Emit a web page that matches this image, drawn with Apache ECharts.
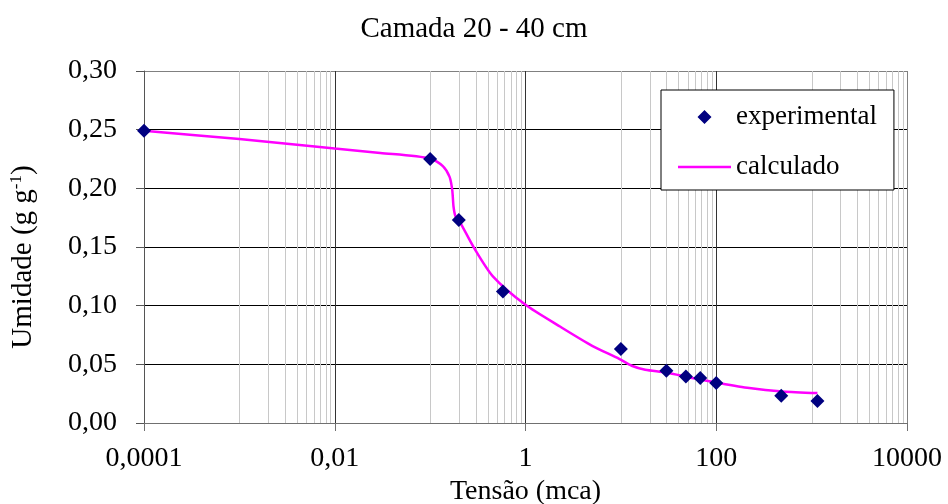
<!DOCTYPE html>
<html><head><meta charset="utf-8">
<script src="https://cdn.jsdelivr.net/npm/echarts@6/dist/echarts.min.js"></script>
<style>html,body{margin:0;padding:0;background:#fff}#c{width:948px;height:504px}</style>
</head><body><div id="c"></div>
<script>
const titleText = 'Camada 20 - 40 cm';
const xName = 'Tensão (mca)';
const seriesNames = ['experimental', 'calculado'];
const expX = [0.0001, 0.1, 0.2, 0.58, 10, 30, 48, 68, 100, 480, 1150];
const expY = [0.249, 0.225, 0.173, 0.112, 0.063, 0.0445, 0.0397, 0.0383, 0.034, 0.0232, 0.0187];
const calcX = [0.0001, 0.001, 0.01, 0.03, 0.1, 0.136, 0.16, 0.1706, 0.176, 0.185, 0.2, 0.29, 0.455, 1.0, 2.3, 5.0, 9.6, 13, 18, 30, 56, 100, 222, 494, 1150];
const calcY = [0.249, 0.242, 0.234, 0.2302, 0.2255, 0.219, 0.2098, 0.1985, 0.1843, 0.1758, 0.173, 0.149, 0.125, 0.1007, 0.0822, 0.0658, 0.0547, 0.0488, 0.0454, 0.0431, 0.0383, 0.0345, 0.0298, 0.0269, 0.0255];
const minorGridX = [
  0.001, 0.002, 0.003, 0.004, 0.005, 0.006, 0.007, 0.008, 0.009,
  0.1, 0.2, 0.3, 0.4, 0.5, 0.6, 0.7, 0.8, 0.9,
  10, 20, 30, 40, 50, 60, 70, 80, 90,
  1000, 2000, 3000, 4000, 5000, 6000, 7000, 8000, 9000
];
const xMin = 0.0001, xMax = 10000;
const yMin = 0, yMax = 0.30, yStep = 0.05;

const FONT = "'Liberation Serif', 'Times New Roman', serif";
const chart = echarts.init(document.getElementById('c'), null, {renderer: 'canvas'});

function xLabel(v) {
  const e = Math.round(Math.log10(v));
  return e < 0 ? '0,' + '0'.repeat(-e - 1) + '1' : '1' + '0'.repeat(e);
}

chart.setOption({
  animation: false,
  backgroundColor: '#fff',
  title: {
    text: titleText, left: 'center', top: 10,
    textStyle: {fontFamily: FONT, fontSize: 29, fontWeight: 'normal', color: '#000'}
  },
  legend: {
    data: [
      {name: seriesNames[0], icon: 'path://M26.5,0 L33.5,7 L26.5,14 L19.5,7 Z M0,7 L53,7 L0,7 Z'},
      {name: seriesNames[1], icon: 'path://M0,0 L60,0 L60,3 L0,3 Z'}
    ],
    orient: 'vertical',
    left: 661, top: 90,
    padding: [13, 17, 9, 17],
    itemWidth: 53, itemHeight: 14, itemGap: 22,
    backgroundColor: '#fff', borderColor: '#000', borderWidth: 1, borderRadius: 0,
    textStyle: {fontFamily: FONT, fontSize: 27, color: '#000', lineHeight: 28},
    selectedMode: false
  },
  grid: {left: 144, right: 41, top: 71, bottom: 81, containLabel: false, outerBoundsMode: 'none'},
  xAxis: {
    type: 'log', logBase: 10, min: xMin, max: xMax, interval: 2, splitNumber: 4,
    name: xName, nameLocation: 'middle', nameGap: 48,
    nameTextStyle: {fontFamily: FONT, fontSize: 28, color: '#000'},
    axisLine: {show: true, lineStyle: {color: '#707070', width: 1}},
    axisTick: {show: true, length: 8, inside: false, lineStyle: {color: '#707070'}},
    axisLabel: {fontFamily: FONT, fontSize: 28, color: '#000', margin: 22, formatter: xLabel},
    splitLine: {show: true, lineStyle: {color: ['#333', '#333', '#333', '#333', '#808080'], width: 1}},
    minorTick: {show: false}, minorSplitLine: {show: false}
  },
  yAxis: {
    type: 'value', min: yMin, max: yMax, interval: yStep,
    name: '{a|Umidade (g g}{s|-1}{a|)}', nameLocation: 'middle', nameGap: 106,
    nameTextStyle: {
      fontFamily: FONT, fontSize: 29, color: '#000', padding: [0, 20, 0, 0],
      rich: {
        a: {fontFamily: FONT, fontSize: 29, color: '#000', lineHeight: 30},
        s: {fontFamily: FONT, fontSize: 17, color: '#000', lineHeight: 14, verticalAlign: 'top'}
      }
    },
    axisLine: {show: true, lineStyle: {color: '#555', width: 1}},
    axisTick: {show: true, length: 8, inside: false, lineStyle: {color: '#555'}},
    axisLabel: {fontFamily: FONT, fontSize: 28, color: '#000', margin: 27,
      formatter: v => v.toFixed(2).replace('.', ',')},
    splitLine: {show: true, lineStyle: {color: ['#000', '#000', '#000', '#000', '#000', '#000', '#808080'], width: 1}}
  },
  series: [
    {
      name: 'minorGrid', type: 'custom', z: 1, silent: true,
      data: minorGridX.map(v => [v, yMin]),
      renderItem: function (params, api) {
        const x = api.value(0);
        const pTop = api.coord([x, yMax]);
        const pBot = api.coord([x, yMin]);
        const px = Math.round(pTop[0]) + 0.5;
        return {
          type: 'line',
          shape: {x1: px, y1: pTop[1], x2: px, y2: pBot[1]},
          style: {stroke: '#c8c8c8', lineWidth: 1}
        };
      }
    },
    {
      name: seriesNames[1], type: 'line', z: 3,
      data: calcX.map((x, i) => [x, calcY[i]]),
      symbol: 'none', smooth: 0.25,
      lineStyle: {color: '#ff00ff', width: 2.5},
      itemStyle: {color: '#ff00ff'}
    },
    {
      name: seriesNames[0], type: 'scatter', z: 4,
      data: expX.map((x, i) => [x, expY[i]]),
      symbol: 'diamond', symbolSize: 14, symbolKeepAspect: true,
      itemStyle: {color: '#000080', opacity: 1}
    }
  ]
});
</script></body></html>
